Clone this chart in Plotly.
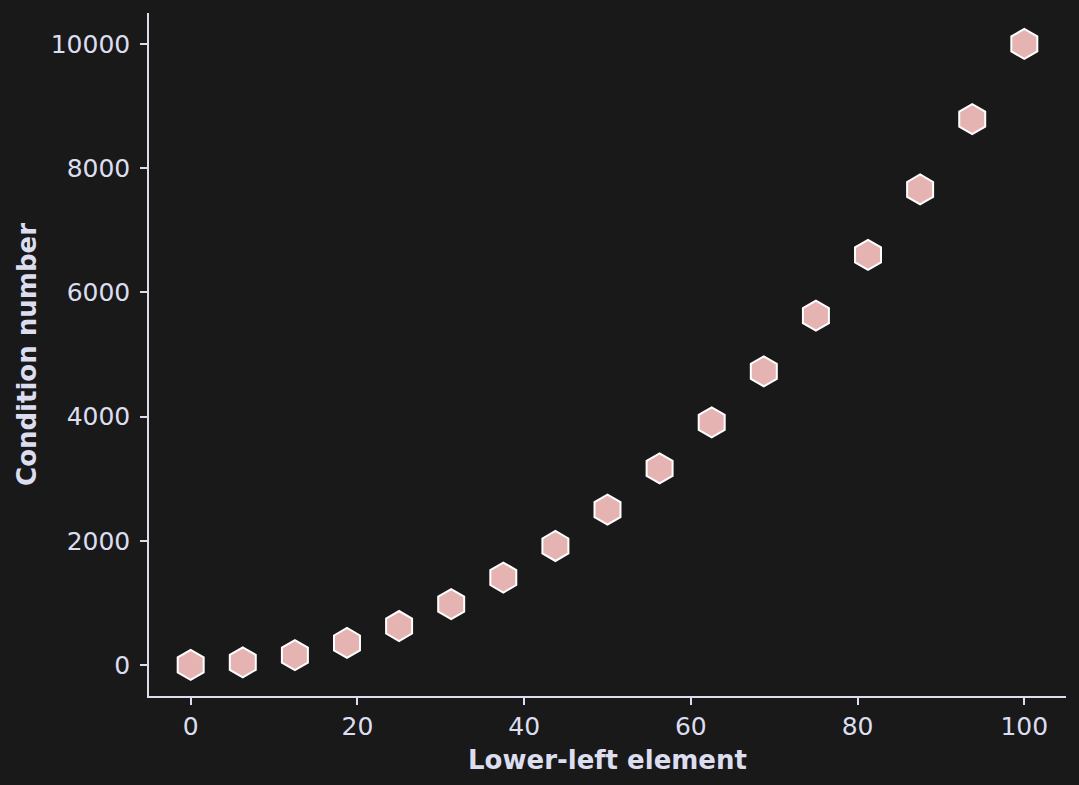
import plotly.graph_objects as go

lower_left = [0, 6.25, 12.5, 18.75, 25, 31.25, 37.5, 43.75, 50, 56.25, 62.5, 68.75, 75, 81.25, 87.5, 93.75, 100]
cond_number = [2, 42, 158, 354, 627, 979, 1408, 1916, 2502, 3166, 3908, 4729, 5627, 6604, 7658, 8791, 10002]

x_ticks = [0, 20, 40, 60, 80, 100]
y_ticks = [0, 2000, 4000, 6000, 8000, 10000]

bg = "#191919"
fg = "#dcdef0"

fig = go.Figure(go.Scatter(
    x=lower_left, y=cond_number, mode="markers",
    marker=dict(symbol="hexagon", size=30, color="#e6b3b3",
                line=dict(color="white", width=2)),
))

axis_common = dict(
    showline=True, linecolor=fg, linewidth=1.5, showgrid=False, zeroline=False,
    ticks="outside", ticklen=7, tickwidth=1.5, tickcolor=fg,
    tickfont=dict(family="DejaVu Sans", size=25, color=fg),
)

fig.update_layout(
    width=1079, height=785,
    paper_bgcolor=bg, plot_bgcolor=bg,
    margin=dict(l=149, r=13, t=13, b=89),
    showlegend=False,
    xaxis=dict(range=[-5, 105], tickvals=x_ticks, ticktext=[str(v) for v in x_ticks],
               title=dict(text="<b>Lower-left element</b>", standoff=11,
                          font=dict(family="DejaVu Sans", size=26, color=fg)),
               **axis_common),
    yaxis=dict(range=[-500, 10500], tickvals=y_ticks, ticktext=[str(v) for v in y_ticks],
               ticklabelstandoff=5,
               title=dict(text="<b>Condition number</b>", standoff=7,
                          font=dict(family="DejaVu Sans", size=26, color=fg)),
               **axis_common),
)

fig.write_html("out.html", config={"displayModeBar": False},
               post_script="document.body.style.margin='0';document.body.style.background='#191919';")
